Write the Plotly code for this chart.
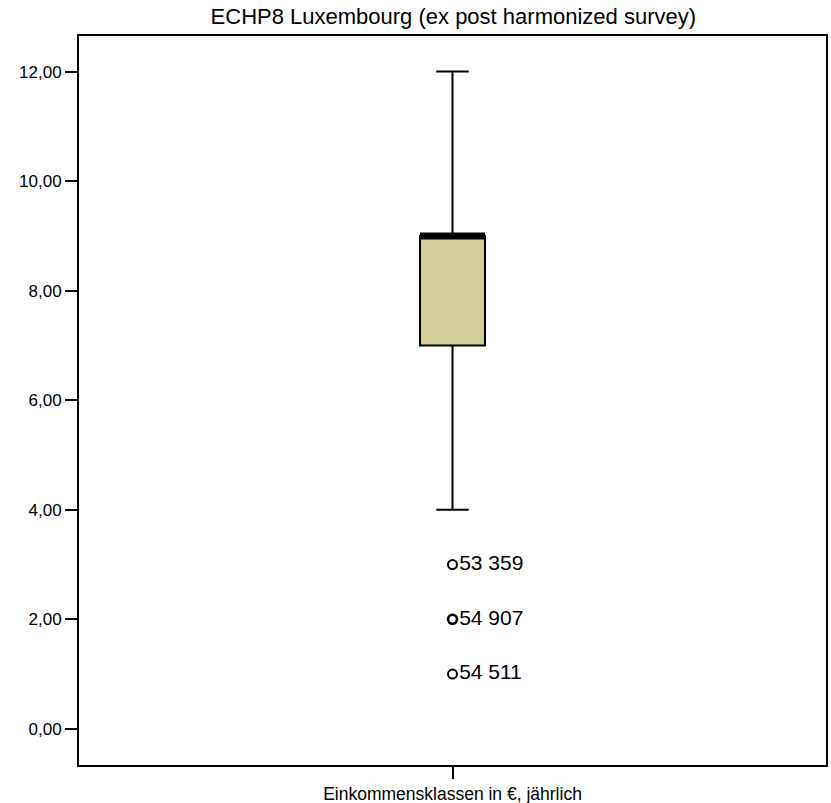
import plotly.graph_objects as go

# Box summary for the income class variable
category = "Einkommensklassen in €, jährlich"
q1 = [7.0]
median = [9.0]
q3 = [9.0]
lower_whisker = [4.0]
upper_whisker = [12.0]

# Outlying cases with their case numbers
outlier_values = [3.0, 2.0, 1.0]
outlier_ids = ["53 359", "54 907", "54 511"]
outlier_edge = [2, 2.6, 2]

y_ticks = [0, 2, 4, 6, 8, 10, 12]
y_tick_labels = ["0,00", "2,00", "4,00", "6,00", "8,00", "10,00", "12,00"]

title_text = "ECHP8 Luxembourg (ex post harmonized survey)"

FONT = "Liberation Sans, Arial, sans-serif"
BOX_WIDTH = 0.174
BOX_FILL = "#D2CE98"

fig = go.Figure()

fig.add_trace(go.Box(
    x=[0],
    q1=q1, median=median, q3=q3,
    lowerfence=lower_whisker, upperfence=upper_whisker,
    width=BOX_WIDTH,
    whiskerwidth=0.5,
    fillcolor=BOX_FILL,
    line=dict(color="black", width=2),
    boxpoints=False,
    hoverinfo="skip",
    showlegend=False,
))

# Heavy median bar across the box
fig.add_trace(go.Scatter(
    x=[-BOX_WIDTH / 2, BOX_WIDTH / 2],
    y=[median[0], median[0]],
    mode="lines",
    line=dict(color="black", width=7),
    hoverinfo="skip",
    showlegend=False,
))

# Outliers with their labels
fig.add_trace(go.Scatter(
    x=[0] * len(outlier_values),
    y=outlier_values,
    mode="markers+text",
    marker=dict(symbol="circle-open", size=9, color="black",
                line=dict(color="black", width=outlier_edge)),
    text=outlier_ids,
    textposition="middle right",
    textfont=dict(family=FONT, size=21, color="black"),
    hoverinfo="skip",
    showlegend=False,
))

fig.update_layout(
    width=831, height=803,
    margin=dict(l=79, r=5, t=36, b=38, autoexpand=False),
    paper_bgcolor="white",
    plot_bgcolor="white",
    font=dict(family=FONT, color="black"),
    title=dict(text=title_text, x=0.5455, xanchor="center",
               y=0.989, yanchor="top",
               font=dict(family=FONT, size=22, color="black")),
    xaxis=dict(
        range=[-1, 1],
        tickvals=[0], ticktext=[category],
        ticks="outside", ticklen=12, tickwidth=2, tickcolor="black",
        automargin=False,
        tickfont=dict(family=FONT, size=17.5, color="black"),
        showline=True, linecolor="black", linewidth=2, mirror=True,
        showgrid=False, zeroline=False, fixedrange=True,
    ),
    yaxis=dict(
        range=[-0.66, 12.65],
        tickvals=y_ticks, ticktext=y_tick_labels,
        ticks="outside", ticklen=12, tickwidth=2, tickcolor="black",
        automargin=False,
        tickfont=dict(family=FONT, size=17, color="black"),
        showline=True, linecolor="black", linewidth=2, mirror=True,
        showgrid=False, zeroline=False, fixedrange=True,
    ),
)

fig.write_html("out.html")
